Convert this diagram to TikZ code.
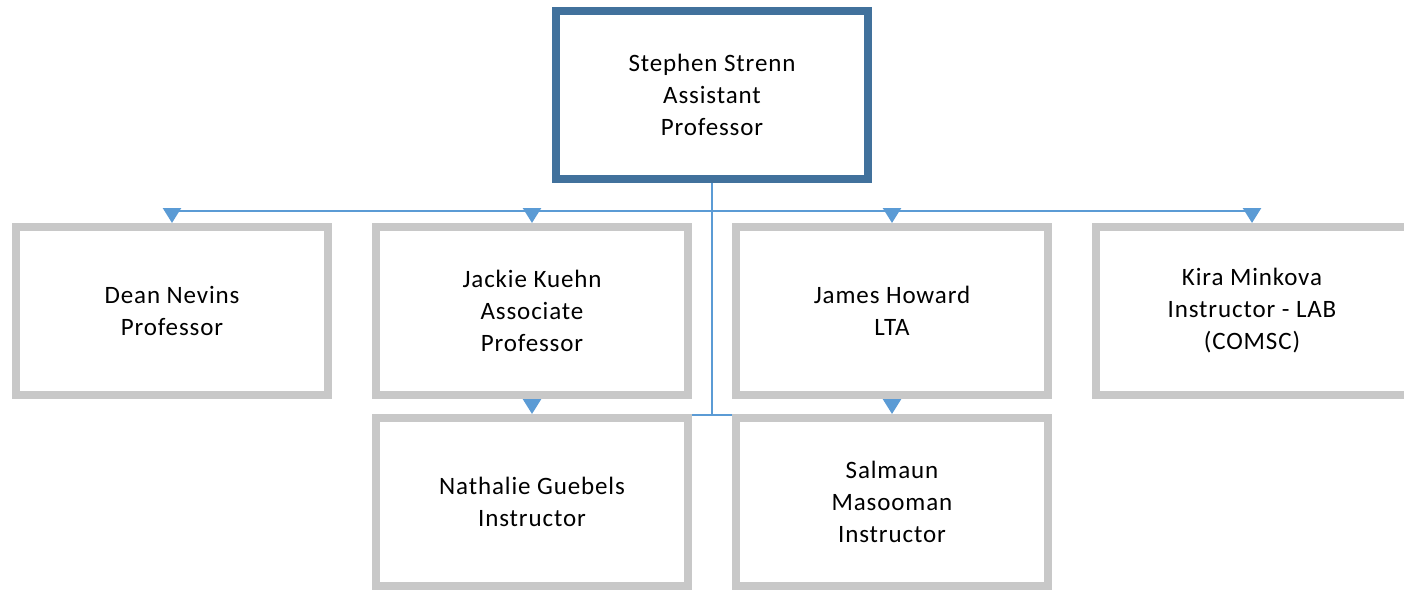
\documentclass[tikz,border=0pt]{standalone}
\usepackage{fontspec}
\setmainfont[LetterSpace=3.5]{Carlito}
\usetikzlibrary{arrows.meta,shadows,backgrounds}
\definecolor{topblue}{HTML}{41719C}
\definecolor{boxgray}{HTML}{C8C8C8}
\definecolor{linkblue}{HTML}{5B9BD5}
\definecolor{shadowblue}{HTML}{BDD7EE}
\tikzset{
  orgbox/.style={draw=boxgray, line width=8pt, fill=white, minimum width=312pt, minimum height=168pt,
    align=center, inner sep=0pt, font=\fontsize{25}{32}\selectfont,
    drop shadow={shadow xshift=2pt, shadow yshift=-3pt, fill=shadowblue, opacity=0.5}},
  headbox/.style={orgbox, draw=topblue},
  conn/.style={draw=linkblue, line width=2.5pt},
  tipconn/.style={conn, -{Triangle[width=18pt,length=15pt]}}
}
\begin{document}
\begin{tikzpicture}[x=1pt,y=-1pt]
\useasboundingbox (0,0) rectangle (1404,589);
\clip (0,0) rectangle (1404,589);
\node[headbox] (top) at (712,95) {Stephen Strenn\\Assistant\\Professor};
\node[orgbox] (dean) at (172,311) {Dean Nevins\\Professor};
\node[orgbox] (jackie) at (532,311) {Jackie Kuehn\\Associate\\Professor};
\node[orgbox] (james) at (892,311) {James Howard\\LTA};
\node[orgbox] (kira) at (1252,311) {Kira Minkova\\Instructor - LAB\\(COMSC)};
\node[orgbox] (nath) at (532,502) {Nathalie Guebels\\Instructor};
\node[orgbox] (salm) at (892,502) {Salmaun\\Masooman\\Instructor};
\coordinate (b1) at (712,211);
\coordinate (b2) at (712,415);
\coordinate (l2) at (532,415);
\coordinate (r2) at (892,415);
\coordinate (a2l) at (532,399);
\coordinate (a2r) at (892,399);
\begin{scope}[on background layer]
  \draw[conn] (top.south) -- (b2);
  \draw[tipconn] (b1) -| (dean.north);
  \draw[tipconn] (b1) -| (jackie.north);
  \draw[tipconn] (b1) -| (james.north);
  \draw[tipconn] (b1) -| (kira.north);
  \draw[conn] (l2) -- (r2);
  \draw[tipconn] (a2l) -- (nath.north);
  \draw[tipconn] (a2r) -- (salm.north);
\end{scope}
\end{tikzpicture}
\end{document}
